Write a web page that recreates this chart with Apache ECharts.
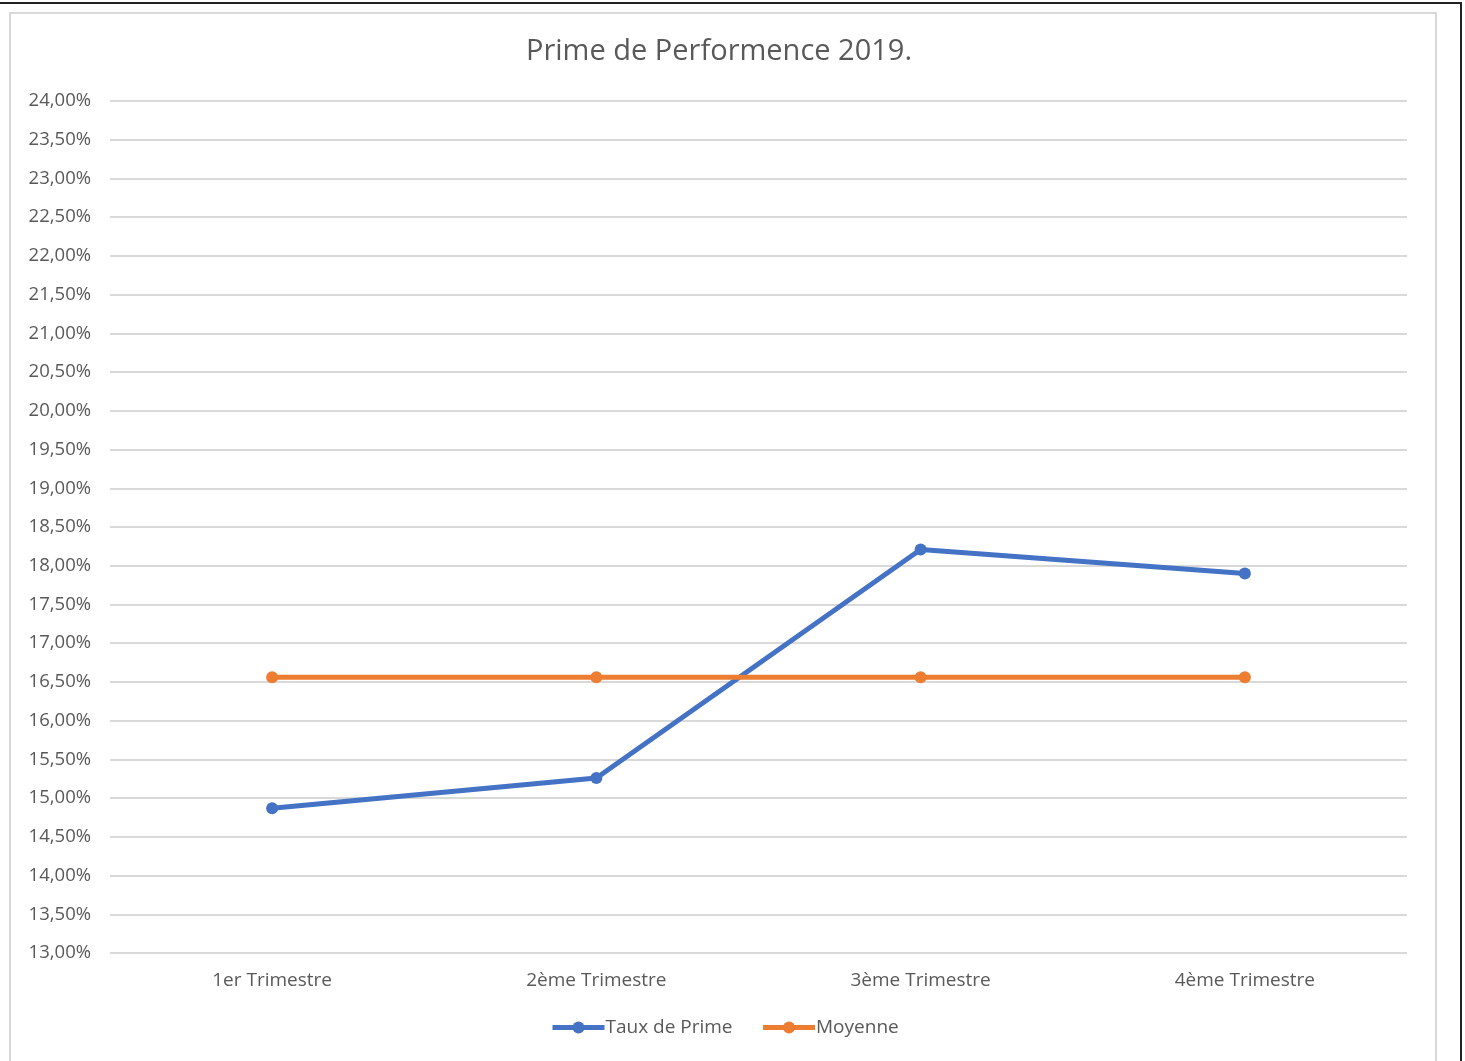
<!DOCTYPE html>
<html>
<head>
<meta charset="utf-8">
<script src="https://cdn.jsdelivr.net/npm/echarts@6/dist/echarts.min.js"></script>
<style>
  html, body { margin: 0; padding: 0; background: #fff; width: 1465px; height: 1061px; overflow: hidden; }
  #outer { position: absolute; left: -2px; top: 2px; width: 1462px; height: 1070px; border-top: 2px solid #222; border-right: 2px solid #222; }
  #inner { position: absolute; left: 9px; top: 12px; width: 1424px; height: 1060px; border: 2px solid #d9d9d9; border-bottom: none; }
  #chart { position: absolute; left: 0; top: 0; width: 1465px; height: 1061px; }
</style>
</head>
<body>
<div id="outer"></div>
<div id="inner"></div>
<div id="chart"></div>
<script>
const categories = ['1er Trimestre', '2ème Trimestre', '3ème Trimestre', '4ème Trimestre'];
const tauxDePrime = [14.87, 15.26, 18.21, 17.90];
const moyenne = [16.56, 16.56, 16.56, 16.56];
const yMin = 13, yMax = 24, yStep = 0.5;

const chart = echarts.init(document.getElementById('chart'), null, { renderer: 'canvas' });
const font = 'Open Sans, Noto Sans, sans-serif';
const grey = '#595959';
chart.setOption({
  backgroundColor: 'transparent',
  animation: false,
  title: {
    text: 'Prime de Performence 2019.',
    left: 521, top: 32,
    textStyle: { fontFamily: font, fontSize: 29, fontWeight: 'normal', color: grey }
  },
  legend: {
    bottom: 19, left: 545,
    itemWidth: 52, itemHeight: 15, itemGap: 28,
    lineStyle: { width: 5 },
    textStyle: { fontFamily: font, fontSize: 19, color: grey, padding: [0, 0, 0, -4] },
    data: ['Taux de Prime', 'Moyenne']
  },
  grid: { left: 110, right: 58, top: 101, bottom: 108, containLabel: false },
  xAxis: {
    type: 'category', data: categories, boundaryGap: true,
    axisLine: { show: false }, axisTick: { show: false },
    axisLabel: { fontFamily: font, fontSize: 19, color: grey, margin: 18 }
  },
  yAxis: {
    type: 'value', min: yMin, max: yMax, interval: yStep,
    axisLine: { show: false }, axisTick: { show: false },
    splitLine: { lineStyle: { color: '#d9d9d9', width: 2 } },
    axisLabel: {
      fontFamily: font, fontSize: 18.5, color: grey, margin: 19,
      formatter: v => v.toFixed(2).replace('.', ',') + '%'
    }
  },
  series: [
    {
      name: 'Taux de Prime', type: 'line', data: tauxDePrime,
      symbol: 'circle', symbolSize: 12,
      lineStyle: { color: '#4472C4', width: 5 },
      itemStyle: { color: '#4472C4' }
    },
    {
      name: 'Moyenne', type: 'line', data: moyenne,
      symbol: 'circle', symbolSize: 12,
      lineStyle: { color: '#ED7D31', width: 5 },
      itemStyle: { color: '#ED7D31' }
    }
  ]
});
</script>
</body>
</html>
